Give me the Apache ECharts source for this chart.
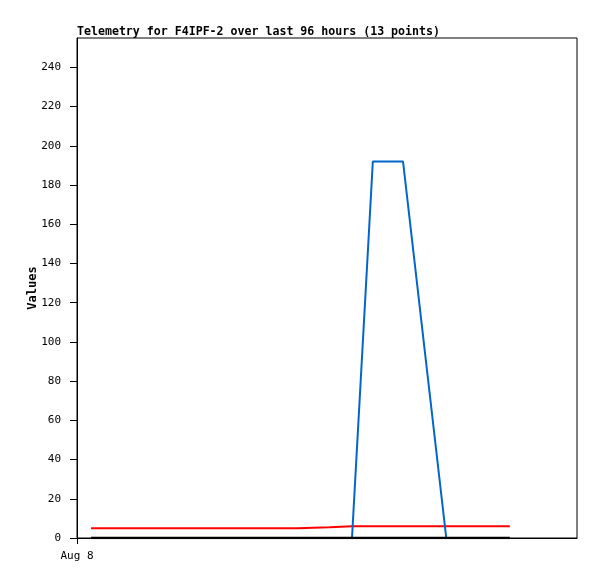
<!DOCTYPE html>
<html>
<head>
<meta charset="utf-8">
<script src="https://cdn.jsdelivr.net/npm/echarts@6/dist/echarts.min.js"></script>
<style>html,body{margin:0;padding:0;background:#fff}#c{width:597px;height:579px}</style>
</head>
<body>
<div id="c"></div>
<script>
// hours since start of the 96-hour window
const hours = [2.7, 10, 20, 30, 42.3, 42.5, 48.5, 48.7, 52.8, 56.8, 62.6, 70.9, 83.1];
const redValues = [5, 5, 5, 5, 5, 5.5, 5.5, 6, 6, 6, 6, 6, 6];
const blueValues = [0, 0, 0, 0, 0, 0, 0, 0, 0, 192, 192, 0, 0];
const blackValues = [0, 0, 0, 0, 0, 0, 0, 0, 0, 0, 0, 0, 0];
const xTickLabels = ['Aug 8'];
const yTicks = [0, 20, 40, 60, 80, 100, 120, 140, 160, 180, 200, 220, 240];
const titleText = 'Telemetry for F4IPF-2 over last 96 hours (13 points)';

const pair = vals => hours.map((h, i) => [h, vals[i]]);
const font = 'DejaVu Sans Mono';
const chart = echarts.init(document.getElementById('c'), null, {renderer: 'canvas'});
chart.setOption({
  animation: false,
  backgroundColor: '#fff',
  title: {
    text: titleText, left: 77, top: 26, padding: 0,
    textStyle: {fontFamily: font, fontSize: 11.6, fontWeight: 'bold', color: '#000'}
  },
  grid: {left: 77, top: 38, right: 20, bottom: 41, show: true, borderColor: '#000', borderWidth: 1, backgroundColor: 'transparent'},
  xAxis: {
    type: 'value', min: 0, max: 96,
    axisLine: {show: true, onZero: false, lineStyle: {color: '#000', width: 1}},
    axisTick: {show: true, customValues: [0], length: 6, lineStyle: {color: '#000'}},
    axisLabel: {show: true, customValues: [0], formatter: (v) => v === 0 ? xTickLabels[0] : '', margin: 13,
      fontFamily: font, fontSize: 11, color: '#000'},
    splitLine: {show: false}
  },
  yAxis: {
    type: 'value', min: 0, max: 255,
    name: 'Values', nameLocation: 'middle', nameGap: 38, nameRotate: 90, nameMoveOverlap: false,
    nameTextStyle: {fontFamily: font, fontSize: 12, fontWeight: 'bold', color: '#000'},
    axisLine: {show: true, lineStyle: {color: '#000', width: 1}},
    axisTick: {show: true, customValues: yTicks, length: 7, lineStyle: {color: '#000'}},
    axisLabel: {show: true, customValues: yTicks, margin: 16, fontFamily: font, fontSize: 11, color: '#000'},
    splitLine: {show: false}
  },
  series: [
    {type: 'line', data: pair(redValues), symbol: 'none', lineStyle: {color: '#ff0000', width: 2}, z: 2},
    {type: 'line', data: pair(blueValues), symbol: 'none', lineStyle: {color: '#0066cc', width: 2}, z: 3},
    {type: 'line', data: pair(blackValues), symbol: 'none', lineStyle: {color: '#000', width: 2.5}, z: 4}
  ]
});
</script>
</body>
</html>
